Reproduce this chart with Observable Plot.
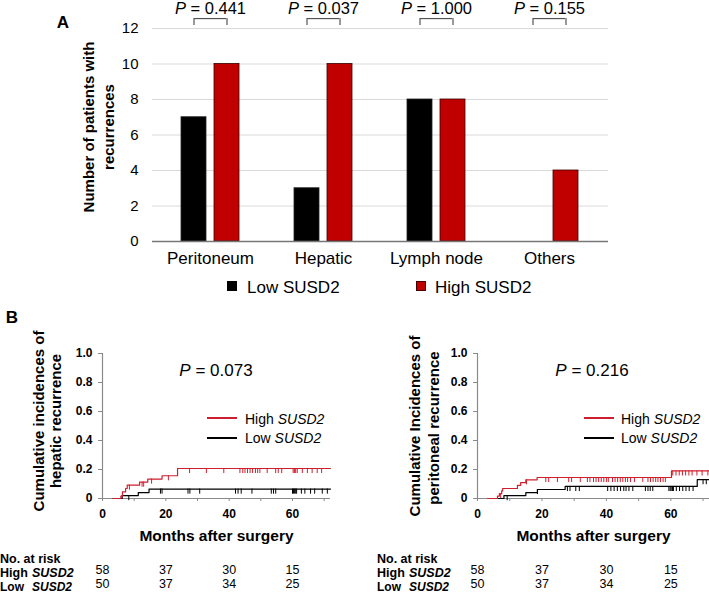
<!DOCTYPE html>
<html><head><meta charset="utf-8">
<script src="https://cdn.jsdelivr.net/npm/d3@7"></script>
<script src="https://cdn.jsdelivr.net/npm/@observablehq/plot@0.6"></script>
<style>
body{margin:0;background:#fff;}
#root{position:relative;width:709px;height:593px;overflow:hidden;font-family:Arial,"Liberation Sans",sans-serif;color:#000;background:#fff;}
.abs{position:absolute;white-space:nowrap;line-height:1;}
.c{transform:translate(-50%,-50%);}
.cy{transform:translateY(-50%);}
.rot{transform:translate(-50%,-50%) rotate(-90deg);}
.b{font-weight:bold;}
.wrap{position:absolute;}
.plotA [aria-label^="y-axis"] text{font-size:15px;}
.plotA [aria-label^="x-axis"] text{font-size:17px;}
.km [aria-label^="x-axis"] text,.km [aria-label^="y-axis"] text{font-size:12px;font-weight:bold;fill:#000;}
.km [aria-label^="x-axis"] line,.km [aria-label^="y-axis"] line,.km [aria-label^="x-axis"] path,.km [aria-label^="y-axis"] path{stroke:#8a8a8a;}
</style>
</head><body><div id="root"></div>
<script>
// ---------- Panel A data ----------
const categories = ["Peritoneum", "Hepatic", "Lymph node", "Others"];
const lowCounts  = [7, 3, 8, 0];
const highCounts = [10, 10, 8, 4];
const pValues    = ["0.441", "0.037", "1.000", "0.155"];
const yTicksA    = [0, 2, 4, 6, 8, 10, 12];

// ---------- Panel B data ----------
const followUpEnd = 72;
const xTicksB = [0, 10, 20, 30, 40, 50, 60, 70];
const yTicksB = [0, 0.2, 0.4, 0.6, 0.8, 1.0];

// hepatic recurrence
const hepHighTimes = [3.3, 5.8, 6.3, 7.3, 7.8, 11.7, 14.3, 18.8, 23.7];
const hepHighCum   = [0, 0.017, 0.046, 0.069, 0.092, 0.113, 0.134, 0.157, 0.207];
const hepLowTimes  = [3.3, 6.2, 11.3, 14.7];
const hepLowCum    = [0, 0.02, 0.041, 0.065];
const hepHighCens  = [8.5, 12.5, 13.0, 15.5, 20.8, 27.5, 32.8, 38.3, 43.4, 44.3, 45.0, 45.8, 46.6, 47.4, 48.3, 49.0, 49.7, 52.0, 54.7, 55.5, 56.6, 60.2, 60.6, 61.0, 61.5, 63.1, 64.7, 66.2, 67.8, 69.2];
const hepLowCens   = [8.3, 18.3, 18.8, 27.0, 27.6, 30.7, 42.0, 42.8, 43.8, 47.2, 53.3, 54.0, 54.7, 60.0, 60.3, 60.6, 61.0, 61.3, 62.8, 63.9, 65.7, 67.0, 69.4, 71.0];

// peritoneal recurrence
const perHighTimes = [3.3, 6.2, 6.8, 7.5, 7.8, 12.4, 13.4, 15.0, 18.5, 60.2];
const perHighCum   = [0, 0.017, 0.034, 0.052, 0.069, 0.09, 0.11, 0.129, 0.145, 0.19];
const perLowTimes  = [3.3, 8.2, 15.0, 18.6, 27.2, 68.2];
const perLowCum    = [0, 0.02, 0.04, 0.062, 0.083, 0.13];
const perHighCens  = [7.2, 15.2, 21.2, 22.1, 24.8, 28.3, 29.2, 31.9, 34.1, 34.9, 36.0, 36.8, 37.6, 38.4, 39.2, 40.0, 40.6, 41.9, 42.7, 43.5, 44.3, 45.1, 45.9, 46.6, 47.5, 48.7, 51.3, 52.9, 53.7, 54.5, 55.3, 56.0, 56.8, 57.6, 58.3, 60.6, 61.6, 62.6, 63.6, 64.6, 65.6, 66.6, 68.1, 69.7, 71.5];
const perLowCens   = [9.2, 18.6, 27.9, 28.7, 30.5, 31.6, 40.4, 41.4, 42.4, 43.4, 44.4, 45.4, 46.1, 47.0, 48.2, 52.1, 52.9, 53.6, 54.4, 59.4, 59.8, 60.1, 60.5, 60.8, 61.7, 62.7, 63.7, 64.7, 65.7, 66.9, 70.0, 71.0];

// numbers at risk
const riskTimes = [0, 20, 40, 60];
const riskHigh  = [58, 37, 30, 15];
const riskLow   = [50, 37, 34, 25];

const RED_A = "#C00000";
const RED_B = "#cf1f2f";
const FONT = "Arial, 'Liberation Sans', sans-serif";

const root = document.getElementById("root");
function put(html, x, y, cls, style) {
  const d = document.createElement("div");
  d.className = "abs " + (cls || "");
  d.style.left = x + "px"; d.style.top = y + "px";
  d.innerHTML = html;
  if (style) Object.assign(d.style, style);
  root.appendChild(d);
  return d;
}
function mount(svg, x, y, cls) {
  const w = document.createElement("div");
  w.className = "wrap " + cls;
  w.style.left = x + "px"; w.style.top = y + "px";
  w.appendChild(svg);
  root.appendChild(w);
}
function italicP(svg) {
  svg.querySelectorAll("text").forEach(t => {
    const s = t.textContent;
    if (/^P = /.test(s)) {
      while (t.firstChild) t.removeChild(t.firstChild);
      const ts = document.createElementNS("http://www.w3.org/2000/svg", "tspan");
      ts.setAttribute("font-style", "italic");
      ts.textContent = "P";
      t.appendChild(ts);
      t.appendChild(document.createTextNode(s.slice(1)));
    }
  });
}

// ---------- Panel A ----------
const catData = categories.map((c, i) => ({cat: c, low: lowCounts[i], high: highCounts[i], p: pValues[i]}));
const yMaxA = yTicksA[yTicksA.length - 1];
const bracketTop = yMaxA + 0.56, bracketFoot = yMaxA + 0.17;
const plotA = Plot.plot({
  width: 709, height: 270,
  marginLeft: 152, marginRight: 101, marginTop: 28, marginBottom: 29,
  style: {fontFamily: FONT, fontSize: "15px", color: "#000", background: "transparent", overflow: "visible"},
  x: {domain: categories, paddingInner: 0.483, paddingOuter: 0.243, tickSize: 0, tickPadding: 10, label: null},
  y: {domain: [0, yMaxA], ticks: yTicksA, tickSize: 0, tickPadding: 14, label: null},
  marks: [
    Plot.ruleY(yTicksA.filter(d => d > 0), {stroke: "#d9d9d9", strokeWidth: 1.2}),
    Plot.barY(catData.filter(d => d.low > 0), {x: "cat", y: "low", fill: "#000", stroke: "#222", strokeWidth: 0.8, insetRight: 33}),
    Plot.barY(catData.filter(d => d.high > 0), {x: "cat", y: "high", fill: RED_A, stroke: "#3a0000", strokeWidth: 0.8, insetLeft: 33}),
    Plot.ruleY([0], {stroke: "#777", strokeWidth: 1.3}),
    Plot.tickY(catData, {x: "cat", y: () => bracketTop, stroke: "#555", strokeWidth: 1.2, insetLeft: 13, insetRight: 13}),
    Plot.ruleX(catData, {x: "cat", y1: () => bracketFoot, y2: () => bracketTop, dx: -16.5, stroke: "#555", strokeWidth: 1.2}),
    Plot.ruleX(catData, {x: "cat", y1: () => bracketFoot, y2: () => bracketTop, dx: 16.5, stroke: "#555", strokeWidth: 1.2}),
    Plot.text(catData, {x: "cat", y: () => bracketTop, dy: -9.5, text: d => "P = " + d.p, fontSize: 16.5})
  ]
});
italicP(plotA);
mount(plotA, 0, 0, "plotA");

put("A", 63, 22, "c b", {fontSize: "17px"});
put("Number of patients with", 88, 127, "rot b", {fontSize: "15px"});
put("recurrences", 108, 127, "rot b", {fontSize: "15px"});
// legend A
put("", 227, 281, "", {width: "10px", height: "10px", background: "#000"});
put("Low SUSD2", 247, 287, "cy", {fontSize: "17px"});
put("", 416, 281, "", {width: "10px", height: "10px", background: RED_A, boxSizing: "border-box", border: "1px solid #400"});
put("High SUSD2", 435, 287, "cy", {fontSize: "17px"});

// ---------- Panel B ----------
const tickLen = 0.035;
function curve(times, cum) { return times.map((t, i) => ({t, v: cum[i]})); }
function stepAt(c, t) { let v = 0; for (const d of c) if (d.t <= t) v = d.v; return v; }
function kmPlot({width, marginLeft, marginRight, high, low, highCens, lowCens}) {
  const lineData = c => [...c, {t: followUpEnd, v: c[c.length - 1].v}];
  const cens = (c, ts) => ts.map(t => ({t, v: stepAt(c, t)}));
  return Plot.plot({
    width, height: 253, marginLeft, marginRight, marginTop: 13, marginBottom: 95,
    style: {fontFamily: FONT, fontSize: "12px", color: "#000", background: "transparent", overflow: "visible"},
    x: {domain: [0, followUpEnd], ticks: xTicksB, tickFormat: d => d % 20 === 0 ? String(d) : "", tickSize: 3, tickPadding: 8, label: null},
    y: {domain: [0, 1], ticks: yTicksB, tickFormat: d => d === 0 ? "0" : d.toFixed(1), tickSize: 4, tickPadding: 6, label: null},
    marks: [
      Plot.ruleY([0], {stroke: "#8a8a8a", strokeWidth: 1.2}),
      Plot.ruleX([0], {stroke: "#8a8a8a", strokeWidth: 1.2}),
      Plot.line(lineData(low), {x: "t", y: "v", curve: "step-after", stroke: "#000", strokeWidth: 1.2}),
      Plot.ruleX(cens(low, lowCens), {x: "t", y1: "v", y2: d => d.v - tickLen, stroke: "#000", strokeWidth: 1}),
      Plot.line(lineData(high), {x: "t", y: "v", curve: "step-after", stroke: RED_B, strokeWidth: 1.2}),
      Plot.ruleX(cens(high, highCens), {x: "t", y1: "v", y2: d => d.v - tickLen, stroke: RED_B, strokeWidth: 1}),
      Plot.text(riskTimes.map((t, i) => ({t, n: riskHigh[i]})), {x: "t", text: d => String(d.n), frameAnchor: "bottom", dy: 75, fontSize: 12.5}),
      Plot.text(riskTimes.map((t, i) => ({t, n: riskLow[i]})), {x: "t", text: d => String(d.n), frameAnchor: "bottom", dy: 89, fontSize: 12.5}),
      Plot.text(["Months after surgery"], {text: d => d, frameAnchor: "bottom", dy: 42, fontSize: 15.5, fontWeight: "bold"})
    ]
  });
}
const kmL = kmPlot({width: 354, marginLeft: 102, marginRight: 24,
  high: curve(hepHighTimes, hepHighCum), low: curve(hepLowTimes, hepLowCum), highCens: hepHighCens, lowCens: hepLowCens});
mount(kmL, 0, 340, "km");
const kmR = kmPlot({width: 355, marginLeft: 123, marginRight: 0,
  high: curve(perHighTimes, perHighCum), low: curve(perLowTimes, perLowCum), highCens: perHighCens, lowCens: perLowCens});
mount(kmR, 354, 340, "km");

put("B", 12, 317, "c b", {fontSize: "17px"});
put("Cumulative incidences of", 38, 421, "rot b", {fontSize: "15px"});
put("hepatic recurrence", 55, 421, "rot b", {fontSize: "15px"});
put("Cumulative Incidences of", 414, 426, "rot b", {fontSize: "15px"});
put("peritoneal recurrence", 433, 428, "rot b", {fontSize: "15px"});

put("<i>P</i> = 0.073", 216, 370, "c", {fontSize: "17px"});
put("<i>P</i> = 0.216", 592, 370, "c", {fontSize: "17px"});

function kmLegend(x0, x1, tx) {
  put("", x0, 417, "", {width: (x1 - x0) + "px", height: "0", borderTop: "2.6px solid " + RED_B});
  put("High <i>SUSD2</i>", tx, 418.5, "cy", {fontSize: "14px"});
  put("", x0, 436.5, "", {width: (x1 - x0) + "px", height: "0", borderTop: "2.6px solid #000"});
  put("Low <i>SUSD2</i>", tx, 438, "cy", {fontSize: "14px"});
}
kmLegend(207, 237, 245);
kmLegend(584, 614, 621);

function riskLabels(x) {
  put("No. at risk", x, 559, "cy b", {fontSize: "12.5px"});
  put('<span style="display:inline-block;width:32px">High</span><i>SUSD2</i>', x, 573, "cy b", {fontSize: "12.5px"});
  put('<span style="display:inline-block;width:32px">Low</span><i>SUSD2</i>', x, 586.5, "cy b", {fontSize: "12px"});
}
riskLabels(0);
riskLabels(377);
</script>
</body></html>
